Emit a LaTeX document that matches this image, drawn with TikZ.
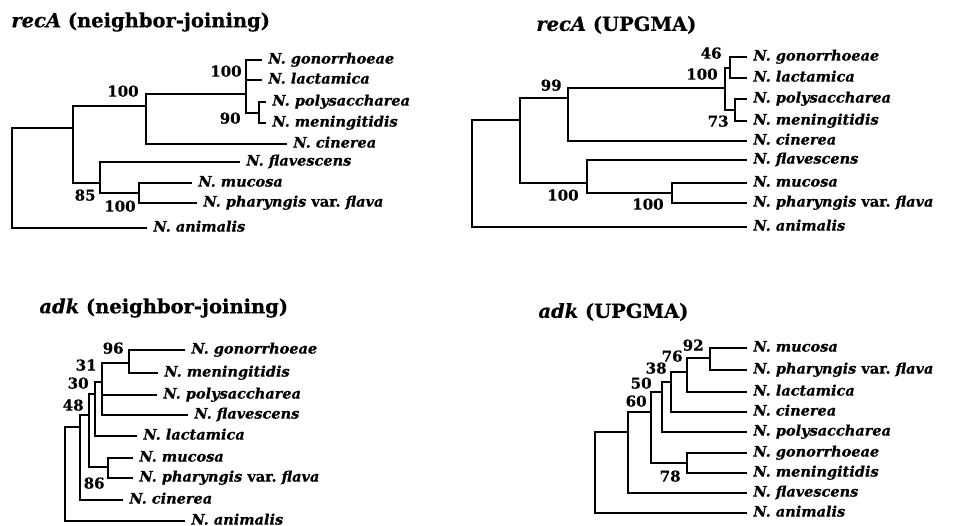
\documentclass[tikz,border=0pt]{standalone}
\usepackage{fontspec}
\setmainfont{DejaVu Serif}[BoldFeatures={FakeBold=0.5}, BoldItalicFeatures={FakeBold=0.5}]

\begin{document}
\begin{tikzpicture}[x=1pt, y=-1pt, line width=2.8pt,
    leaf/.style={anchor=west, inner sep=5pt, text height=0.72em, text depth=0pt, font=\fontsize{14.5}{16}\selectfont\bfseries\itshape},
    boot/.style={anchor=east, inner sep=0pt, text height=0.72em, text depth=0pt, font=\fontsize{15}{16}\selectfont\bfseries},
    title/.style={anchor=west, inner sep=0pt, font=\fontsize{19.5}{22}\selectfont\bfseries}]
    \useasboundingbox (0,0) rectangle (955,525);

    \node [title] (t1) at (10,22) {\textit{recA} (neighbor-joining)};
    \coordinate (nj1root) at (12,178);
    \coordinate (nj1in) at (73,128);
    \coordinate (nj1a) at (146,106);
    \coordinate (nj1b) at (246,94);
    \coordinate (nj1gl) at (246,70);
    \coordinate (nj1pm) at (259,113);
    \coordinate (nj1fm) at (100,183);
    \coordinate (nj1mp) at (139,193);
    \node [leaf] (nj1gon) at (262,60) {N. gonorrhoeae};
    \node [leaf] (nj1lac) at (262,80) {N. lactamica};
    \node [leaf] (nj1pol) at (266,102) {N. polysaccharea};
    \node [leaf] (nj1men) at (266,123) {N. meningitidis};
    \node [leaf] (nj1cin) at (287,144) {N. cinerea};
    \node [leaf] (nj1fla) at (240,162) {N. flavescens};
    \node [leaf] (nj1muc) at (192,183) {N. mucosa};
    \node [leaf] (nj1pha) at (197,203) {N. pharyngis \textup{var.}\ flava};
    \node [leaf] (nj1ani) at (147,228) {N. animalis};
    \node [boot] (nj1s1) at (140,93) {100};
    \node [boot] (nj1s2) at (243,73) {100};
    \node [boot] (nj1s3) at (242,120) {90};
    \node [boot] (nj1s4) at (97,197) {85};
    \node [boot] (nj1s5) at (137,208) {100};
    \draw (nj1root) |- (nj1in);
    \draw (nj1root) |- (nj1ani.west);
    \draw (nj1in) |- (nj1a);
    \draw (nj1in) |- (nj1fm);
    \draw (nj1a) |- (nj1b);
    \draw (nj1a) |- (nj1cin.west);
    \draw (nj1b) |- (nj1gl);
    \draw (nj1b) |- (nj1pm);
    \draw (nj1gl) |- (nj1gon.west);
    \draw (nj1gl) |- (nj1lac.west);
    \draw (nj1pm) |- (nj1pol.west);
    \draw (nj1pm) |- (nj1men.west);
    \draw (nj1fm) |- (nj1fla.west);
    \draw (nj1fm) |- (nj1mp);
    \draw (nj1mp) |- (nj1muc.west);
    \draw (nj1mp) |- (nj1pha.west);

    \node [title] (t2) at (535,25) {\textit{recA} (UPGMA)};
    \coordinate (up1root) at (472,174);
    \coordinate (up1in) at (520,120);
    \coordinate (up1a) at (568,98);
    \coordinate (up1b) at (725,88);
    \coordinate (up1gl) at (730,68);
    \coordinate (up1pm) at (735,110);
    \coordinate (up1fm) at (587,183);
    \coordinate (up1mp) at (672,193);
    \node [leaf] (up1gon) at (747,57) {N. gonorrhoeae};
    \node [leaf] (up1lac) at (747,78) {N. lactamica};
    \node [leaf] (up1pol) at (747,99) {N. polysaccharea};
    \node [leaf] (up1men) at (747,121) {N. meningitidis};
    \node [leaf] (up1cin) at (747,141) {N. cinerea};
    \node [leaf] (up1fla) at (747,160) {N. flavescens};
    \node [leaf] (up1muc) at (747,183) {N. mucosa};
    \node [leaf] (up1pha) at (747,203) {N. pharyngis \textup{var.}\ flava};
    \node [leaf] (up1ani) at (747,227) {N. animalis};
    \node [boot] (up1s1) at (723,55) {46};
    \node [boot] (up1s2) at (719,76) {100};
    \node [boot] (up1s3) at (730,123) {73};
    \node [boot] (up1s4) at (563,87) {99};
    \node [boot] (up1s5) at (580,197) {100};
    \node [boot] (up1s6) at (665,206) {100};
    \draw (up1root) |- (up1in);
    \draw (up1root) |- (up1ani.west);
    \draw (up1in) |- (up1a);
    \draw (up1in) |- (up1fm);
    \draw (up1a) |- (up1b);
    \draw (up1a) |- (up1cin.west);
    \draw (up1b) |- (up1gl);
    \draw (up1b) |- (up1pm);
    \draw (up1gl) |- (up1gon.west);
    \draw (up1gl) |- (up1lac.west);
    \draw (up1pm) |- (up1pol.west);
    \draw (up1pm) |- (up1men.west);
    \draw (up1fm) |- (up1fla.west);
    \draw (up1fm) |- (up1mp);
    \draw (up1mp) |- (up1muc.west);
    \draw (up1mp) |- (up1pha.west);

    \node [title] (t3) at (38,308) {\textit{adk} (neighbor-joining)};
    \coordinate (nj2root) at (65,474);
    \coordinate (nj2a) at (80,427);
    \coordinate (nj2b) at (89,415);
    \coordinate (nj2c) at (95,394);
    \coordinate (nj2d) at (102,382);
    \coordinate (nj2gm) at (129,363);
    \coordinate (nj2mp) at (108,467);
    \node [leaf] (nj2gon) at (185,350) {N. gonorrhoeae};
    \node [leaf] (nj2men) at (158,373) {N. meningitidis};
    \node [leaf] (nj2pol) at (157,395) {N. polysaccharea};
    \node [leaf] (nj2fla) at (188,415) {N. flavescens};
    \node [leaf] (nj2lac) at (137,436) {N. lactamica};
    \node [leaf] (nj2muc) at (133,458) {N. mucosa};
    \node [leaf] (nj2pha) at (133,478) {N. pharyngis \textup{var.}\ flava};
    \node [leaf] (nj2cin) at (123,500) {N. cinerea};
    \node [leaf] (nj2ani) at (185,521) {N. animalis};
    \node [boot] (nj2s1) at (125,350) {96};
    \node [boot] (nj2s2) at (98,367) {31};
    \node [boot] (nj2s3) at (90,385) {30};
    \node [boot] (nj2s4) at (85,407) {48};
    \node [boot] (nj2s5) at (106,485) {86};
    \draw (nj2root) |- (nj2a);
    \draw (nj2root) |- (nj2ani.west);
    \draw (nj2a) |- (nj2b);
    \draw (nj2a) |- (nj2cin.west);
    \draw (nj2b) |- (nj2c);
    \draw (nj2b) |- (nj2mp);
    \draw (nj2c) |- (nj2d);
    \draw (nj2c) |- (nj2lac.west);
    \draw (nj2d) |- (nj2gm);
    \draw (nj2d) |- (nj2pol.west);
    \draw (nj2d) |- (nj2fla.west);
    \draw (nj2gm) |- (nj2gon.west);
    \draw (nj2gm) |- (nj2men.west);
    \draw (nj2mp) |- (nj2muc.west);
    \draw (nj2mp) |- (nj2pha.west);

    \node [title] (t4) at (537,312) {\textit{adk} (UPGMA)};
    \coordinate (up2root) at (595,472);
    \coordinate (up2a) at (628,432);
    \coordinate (up2b) at (651,412);
    \coordinate (up2c) at (662,392);
    \coordinate (up2d) at (671,382);
    \coordinate (up2e) at (687,372);
    \coordinate (up2mp) at (710,358);
    \coordinate (up2gm) at (687,463);
    \node [leaf] (up2muc) at (747,348) {N. mucosa};
    \node [leaf] (up2pha) at (747,370) {N. pharyngis \textup{var.}\ flava};
    \node [leaf] (up2lac) at (747,392) {N. lactamica};
    \node [leaf] (up2cin) at (747,412) {N. cinerea};
    \node [leaf] (up2pol) at (747,432) {N. polysaccharea};
    \node [leaf] (up2gon) at (747,453) {N. gonorrhoeae};
    \node [leaf] (up2men) at (747,473) {N. meningitidis};
    \node [leaf] (up2fla) at (747,493) {N. flavescens};
    \node [leaf] (up2ani) at (747,513) {N. animalis};
    \node [boot] (up2s1) at (705,347) {92};
    \node [boot] (up2s2) at (684,358) {76};
    \node [boot] (up2s3) at (668,370) {38};
    \node [boot] (up2s4) at (653,385) {50};
    \node [boot] (up2s5) at (648,403) {60};
    \node [boot] (up2s6) at (682,478) {78};
    \draw (up2root) |- (up2a);
    \draw (up2root) |- (up2ani.west);
    \draw (up2a) |- (up2b);
    \draw (up2a) |- (up2fla.west);
    \draw (up2b) |- (up2c);
    \draw (up2b) |- (up2gm);
    \draw (up2c) |- (up2d);
    \draw (up2c) |- (up2pol.west);
    \draw (up2d) |- (up2e);
    \draw (up2d) |- (up2cin.west);
    \draw (up2e) |- (up2mp);
    \draw (up2e) |- (up2lac.west);
    \draw (up2mp) |- (up2muc.west);
    \draw (up2mp) |- (up2pha.west);
    \draw (up2gm) |- (up2gon.west);
    \draw (up2gm) |- (up2men.west);
\end{tikzpicture}
\end{document}
